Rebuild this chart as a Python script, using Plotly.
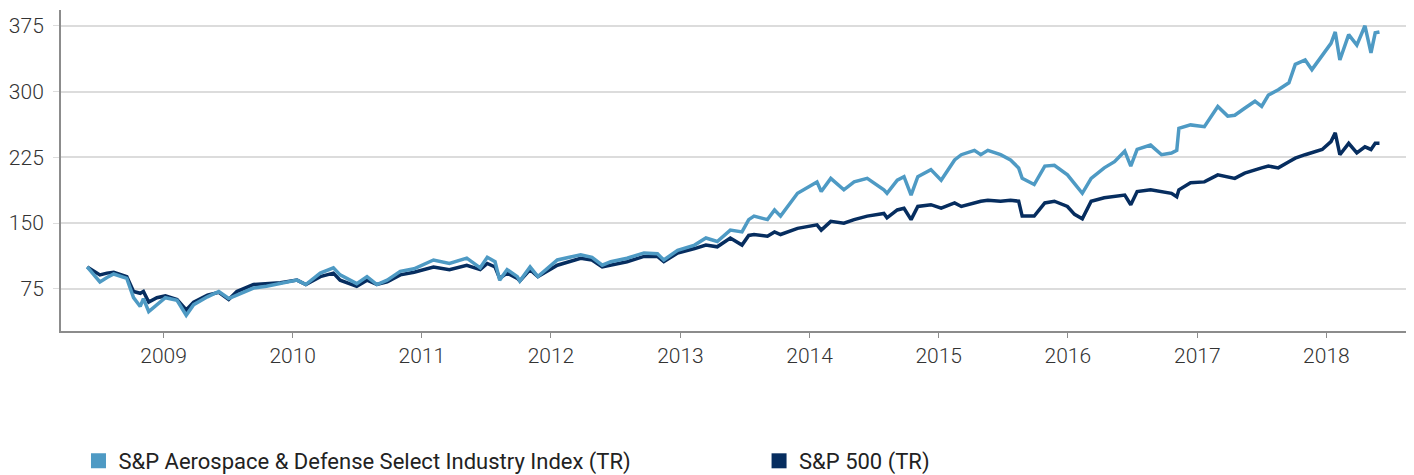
import plotly.graph_objects as go

# ---- data (index level, TR) ----
dates = [
    "2008-05-30", "2008-06-20", "2008-07-05", "2008-07-25", "2008-08-13", "2008-09-19",
    "2008-10-08", "2008-10-27", "2008-11-05", "2008-11-20", "2008-12-13", "2009-01-06",
    "2009-02-08", "2009-03-06", "2009-03-27", "2009-05-05", "2009-06-06", "2009-07-04",
    "2009-07-27", "2009-09-12", "2009-10-19", "2009-11-27", "2010-01-13", "2010-02-07",
    "2010-03-20", "2010-04-26", "2010-05-15", "2010-07-01", "2010-07-30", "2010-08-27",
    "2010-09-25", "2010-11-01", "2010-12-10", "2011-02-03", "2011-03-20", "2011-05-08",
    "2011-06-15", "2011-07-05", "2011-07-27", "2011-08-09", "2011-08-30", "2011-09-28",
    "2011-10-05", "2011-11-03", "2011-11-25", "2012-01-19", "2012-03-25", "2012-04-26",
    "2012-05-25", "2012-06-18", "2012-08-03", "2012-09-20", "2012-10-28", "2012-11-15",
    "2012-12-24", "2013-02-10", "2013-03-14", "2013-04-15", "2013-05-22", "2013-06-24",
    "2013-07-13", "2013-07-28", "2013-09-04", "2013-09-24", "2013-10-11", "2013-11-28",
    "2014-01-22", "2014-02-03", "2014-03-02", "2014-04-08", "2014-05-07", "2014-06-13",
    "2014-07-30", "2014-08-08", "2014-09-06", "2014-09-25", "2014-10-15", "2014-11-03",
    "2014-12-10", "2015-01-08", "2015-02-15", "2015-03-06", "2015-04-12", "2015-04-30",
    "2015-05-20", "2015-06-25", "2015-07-23", "2015-08-15", "2015-08-25", "2015-09-28",
    "2015-10-28", "2015-11-24", "2015-12-31", "2016-01-20", "2016-02-11", "2016-03-07",
    "2016-04-13", "2016-05-12", "2016-06-10", "2016-06-27", "2016-07-15", "2016-08-22",
    "2016-09-22", "2016-10-20", "2016-11-04", "2016-11-10", "2016-12-13", "2017-01-21",
    "2017-02-28", "2017-03-28", "2017-04-17", "2017-05-15", "2017-06-13", "2017-07-02",
    "2017-07-21", "2017-08-18", "2017-09-17", "2017-10-05", "2017-11-02", "2017-11-21",
    "2017-12-20", "2018-01-14", "2018-01-26", "2018-02-08", "2018-03-05", "2018-03-28",
    "2018-04-20", "2018-05-07", "2018-05-19", "2018-05-31",
]

aero_defense = [
    100, 90, 83, 88, 92, 87,
    65, 55, 64, 49, 57, 65,
    62, 45, 57, 66, 72, 64,
    68, 76, 78, 81, 85, 80,
    93, 99, 91, 81, 89, 80,
    85, 95, 98, 108, 104, 110,
    99, 111, 106, 85, 97, 89,
    84, 100, 89, 108, 114, 111,
    102, 106, 110, 116, 115, 108,
    119, 125, 133, 129, 142, 140,
    154, 158, 154, 165, 158, 184,
    197, 186, 201, 188, 197, 201,
    188, 184, 199, 203, 182, 203,
    211, 199, 222, 228, 233, 228,
    233, 228, 222, 213, 201, 194,
    215, 216, 205, 195, 184, 201,
    213, 220, 232, 215, 234, 239,
    228, 230, 233, 258, 262, 260,
    283, 272, 273, 281, 289, 283,
    296, 302, 310, 331, 336, 325,
    342, 355, 368, 336, 365, 353,
    375, 344, 367, 368,
]

sp500 = [
    100, 95, 91, 93, 94, 89,
    72, 70, 72, 60, 65, 67,
    63, 51, 60, 68, 71, 63,
    72, 80, 81, 82, 85, 80,
    89, 93, 85, 78, 85, 80,
    83, 91, 94, 100, 97, 102,
    97, 104, 100, 87, 93, 87,
    84, 97, 89, 102, 110, 108,
    100, 102, 106, 112, 112, 106,
    116, 121, 125, 123, 133, 125,
    136, 137, 135, 140, 137, 144,
    148, 142, 152, 150, 154, 158,
    161, 156, 165, 167, 154, 169,
    171, 167, 173, 169, 173, 175,
    176, 175, 176, 175, 158, 158,
    173, 175, 169, 160, 155, 175,
    179, 180, 182, 171, 186, 188,
    186, 184, 180, 188, 196, 197,
    205, 203, 201, 207, 211, 213,
    215, 213, 220, 224, 228, 230,
    234, 243, 253, 228, 241, 230,
    237, 234, 241, 241,
]

series_names = ["S&P Aerospace & Defense Select Industry Index (TR)", "S&P 500 (TR)"]
series_colors = ["#4E9AC4", "#062D5F"]
y_ticks = [75, 150, 225, 300, 375]

fig = go.Figure()

# dark series underneath, light series on top
fig.add_trace(go.Scatter(x=dates, y=sp500, mode="lines", name=series_names[1],
                         line=dict(color=series_colors[1], width=3.5), showlegend=False))
fig.add_trace(go.Scatter(x=dates, y=aero_defense, mode="lines", name=series_names[0],
                         line=dict(color=series_colors[0], width=3.5), showlegend=False))

# square legend markers, each in its own legend box
fig.add_trace(go.Scatter(x=[None], y=[None], mode="markers", name=series_names[0],
                         marker=dict(symbol="square", size=15, color=series_colors[0]),
                         legend="legend"))
fig.add_trace(go.Scatter(x=[None], y=[None], mode="markers", name=series_names[1],
                         marker=dict(symbol="square", size=15, color=series_colors[1]),
                         legend="legend2"))

font_family = "Roboto, Arial, sans-serif"
legend_font = dict(size=22, color="#222222", family=font_family)

fig.update_layout(
    width=1398, height=467,
    margin=dict(l=53, r=0, t=2, b=144, autoexpand=False),
    paper_bgcolor="white", plot_bgcolor="white",
    font=dict(family=font_family, size=21, color="#333333"),
    showlegend=True,
    legend=dict(orientation="h", x=0.013, xanchor="left", y=-0.405, yanchor="middle",
                font=legend_font, itemclick=False, bgcolor="rgba(0,0,0,0)"),
    legend2=dict(orientation="h", x=0.519, xanchor="left", y=-0.405, yanchor="middle",
                 font=legend_font, itemclick=False, bgcolor="rgba(0,0,0,0)"),
    xaxis=dict(
        type="date", range=["2008-03-17", "2018-08-14"],
        dtick="M12", tick0="2009-01-01", tickformat="%Y",
        showgrid=False, zeroline=False, automargin=False,
        showline=True, linecolor="#8C8C8C", linewidth=2,
        ticks="outside", ticklen=5, tickwidth=1, tickcolor="#8C8C8C",
        tickfont=dict(size=21, color="#333333", weight=300),
    ),
    yaxis=dict(
        range=[27, 393], tickvals=y_ticks, automargin=False,
        showgrid=True, gridcolor="#DCDCDC", gridwidth=1.5, zeroline=False,
        showline=True, linecolor="#8C8C8C", linewidth=2,
        ticks="outside", ticklen=6, tickwidth=1, tickcolor="#DCDCDC",
        ticklabelstandoff=5,
        tickfont=dict(size=21, color="#333333", weight=300),
    ),
)

fig.write_html("out.html")
